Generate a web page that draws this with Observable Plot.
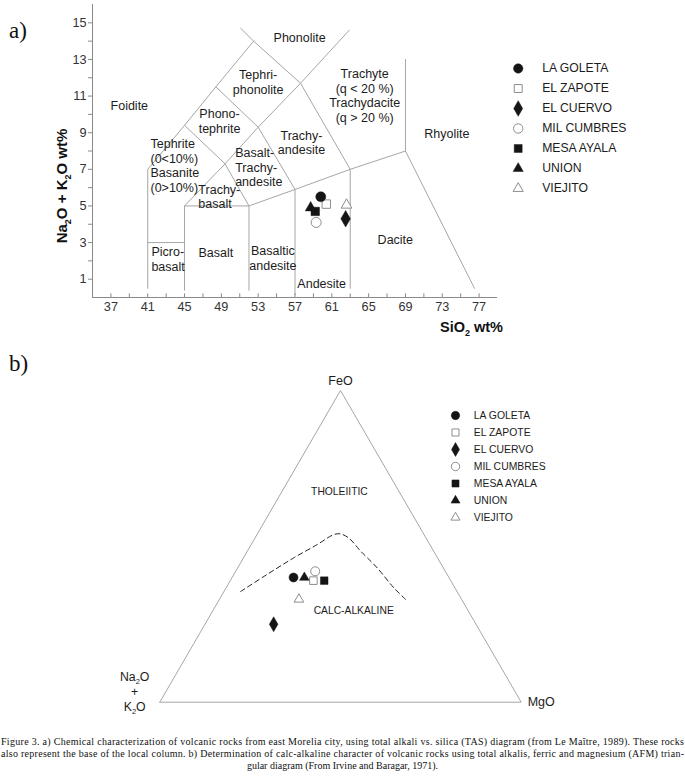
<!DOCTYPE html>
<html><head><meta charset="utf-8">
<script src="https://cdn.jsdelivr.net/npm/d3@7"></script>
<script src="https://cdn.jsdelivr.net/npm/@observablehq/plot@0.6"></script>
<style>
html,body{margin:0;padding:0;background:#fff;}
#root{position:relative;width:685px;height:781px;overflow:hidden;background:#fff;}
#root > *{position:absolute;}
.tag{font-family:"Liberation Serif","Times New Roman",serif;font-size:23px;color:#111;line-height:1;}
</style></head><body><div id="root"></div>
<script>
// ---------------- DATA ----------------
const series = ["LA GOLETA","EL ZAPOTE","EL CUERVO","MIL CUMBRES","MESA AYALA","UNION","VIEJITO"];
// panel a: TAS diagram (SiO2 wt%, Na2O+K2O wt%)
const tasSiO2   = [59.8, 60.4, 62.5, 59.3, 59.2, 58.7, 62.6];
const tasAlkali = [5.5, 5.1, 4.3, 4.1, 4.7, 4.9, 5.05];
// panel b: AFM diagram (percent of A = Na2O+K2O, F = FeO, M = MgO)
const afmA = [43, 38, 56, 36, 35, 40, 45];
const afmF = [40, 39, 25, 42, 39, 40, 33];
const afmM = [17, 23, 19, 22, 26, 20, 22];
// tick labels
const xTickLabels = [37,41,45,49,53,57,61,65,69,73,77];
const xTickMarks  = [37,39,41,43,45,47,49,51,53,55,57,59,61,63,65,67,69,71,73,75,77];
const yTickLabels = [1,3,5,7,9,11,13,15];
const yTickMarks  = [1,2,3,4,5,6,7,8,9,10,11,12,13,14,15];
// TAS field boundaries (Le Maitre, 1989) as [SiO2, alkali] polylines
const tasBoundaries = [
  [[41,0.5],[41,7],[45,9.4],[48.4,11.5],[52.5,14]],
  [[51.1,14.7],[52.5,14],[57.6,11.7],[63,7],[63,0.5]],
  [[41,3],[45,3]],
  [[45,0.4],[45,5],[49.4,7.3],[53,9.3],[57.6,11.7],[62.9,14.6]],
  [[45,5],[52,5],[57,5.9],[63,7],[69,8],[76.5,0.5]],
  [[69,8],[69,13]],
  [[52,0.4],[52,5],[49.4,7.3]],
  [[45,9.4],[49.4,7.3]],
  [[48.4,11.5],[53,9.3],[57,5.9],[57,0.15]]
];
// TAS field names (position in SiO2 / alkali units)
const tasFieldsCentered = [
  {text:"Phonolite", x:57.5, y:14.2},
  {text:"Tephri-\nphonolite", x:53.0, y:11.78},
  {text:"Trachyte\n(q < 20 %)\nTrachydacite\n(q > 20 %)", x:64.57, y:11.04},
  {text:"Foidite", x:39.0, y:10.5},
  {text:"Phono-\ntephrite", x:48.8, y:9.65},
  {text:"Rhyolite", x:73.5, y:8.97},
  {text:"Trachy-\nandesite", x:57.7, y:8.47},
  {text:"Basalt", x:48.4, y:2.46},
  {text:"Basaltic\nandesite", x:54.6, y:2.16},
  {text:"Andesite", x:59.9, y:0.77},
  {text:"Dacite", x:67.9, y:3.17}
];
const tasFieldsLeft = [
  {text:"Tephrite\n(0<10%)\nBasanite\n(0>10%)", x:41.3, y:7.22},
  {text:"Basalt-\nTrachy-\nandesite", x:50.5, y:7.11},
  {text:"Trachy-\nbasalt", x:46.5, y:5.52},
  {text:"Picro-\nbasalt", x:41.4, y:2.1}
];
// AFM: triangle and Irvine & Baragar (1971) divide (F, M percent)
const afmTriangle = [{F:0,M:0},{F:100,M:0},{F:0,M:100},{F:0,M:0}];
const divideF = [35.5, 41, 46.3, 50.6, 53.8, 54, 52.7, 48.5, 43.1, 36.7, 33];
const divideM = [4.6, 9.2, 13.9, 18.3, 21.3, 23, 25.9, 31.3, 38.6, 46.4, 51.5];
const afmFieldLabels = [
  {text:"THOLEIITIC", F:67.6, M:15.9},
  {text:"CALC-ALKALINE", F:29.5, M:38.9}
];
const caption = [
  "Figure 3. a) Chemical characterization of volcanic rocks from east Morelia city, using total alkali vs. silica (TAS) diagram (from Le Maître, 1989). These rocks",
  "also represent the base of the local column. b) Determination of calc-alkaline character of volcanic rocks using total alkalis, ferric and magnesium (AFM) trian-",
  "gular diagram (From Irvine and Baragar, 1971)."
];

// ---------------- STYLE ----------------
const seriesSymbol = ["circle","square","diamond","circle","square","triangle","triangle"];
const seriesFilled = [true,false,true,false,true,true,false];
const symbolScale = {circle: 1, square: 0.95, diamond: 1, triangle: 0.8};
const DARK = "#151515", OPEN = "#8e8e8e", LINE = "#a6a6a6", TXT = "#1c1c1c";
const SANS = "'Liberation Sans', Arial, Helvetica, sans-serif";
const isFilled = n => seriesFilled[series.indexOf(n)];
const fillOf = n => isFilled(n) ? DARK : "white";
const strokeOf = n => isFilled(n) ? DARK : OPEN;
const sizeOf = (n, base) => base * symbolScale[seriesSymbol[series.indexOf(n)]];
const baseStyle = {fontFamily: SANS, fontSize: "12.5px", color: TXT, background: "transparent", overflow: "visible"};

// one dot mark per series (open symbols first, filled on top)
function seriesDots(data, opts, base) {
  const order = series.filter(n => !isFilled(n)).concat(series.filter(n => isFilled(n)));
  return order.map(n => Plot.dot(data, {
    ...opts,
    filter: d => (d.name ?? d) === n,
    symbol: () => n,
    r: sizeOf(n, base),
    fill: fillOf(n),
    stroke: strokeOf(n),
    strokeWidth: isFilled(n) ? 0.5 : 1
  }));
}

const root = document.getElementById("root");

// ---------------- PANEL A ----------------
const tasData = series.map((name, i) => ({name, x: tasSiO2[i], y: tasAlkali[i]}));
const tasLines = tasBoundaries.flatMap((pts, k) => pts.map(([x, y]) => ({k, x, y})));

const plotA = Plot.plot({
  width: 520, height: 340,
  marginLeft: 92, marginRight: 23, marginTop: 4, marginBottom: 43,
  x: {domain: [35, 79]},
  y: {domain: [0, 16]},
  symbol: {domain: series, range: seriesSymbol},
  style: baseStyle,
  marks: [
    Plot.line(tasLines, {x: "x", y: "y", z: "k", stroke: LINE, strokeWidth: 1}),
    Plot.ruleY([0], {x1: 35, x2: 79, stroke: "#8a8a8a"}),
    Plot.ruleX([35], {y1: 0, y2: 16, stroke: "#8a8a8a"}),
    Plot.ruleX(xTickMarks, {y1: 0, y2: 0.2, stroke: "#8a8a8a"}),
    Plot.axisX({ticks: xTickLabels, tickSize: 0, tickPadding: 4, fontSize: 12.7, color: "#333", label: null}),
    Plot.axisY({ticks: yTickMarks, tickSize: 4, tickFormat: () => "", stroke: "#8a8a8a", label: null}),
    Plot.axisY({ticks: yTickLabels, tickSize: 0, tickPadding: 6, fontSize: 12.7, color: "#333", label: null}),
    Plot.text(tasFieldsCentered, {x: "x", y: "y", text: "text", fontSize: 12.5, lineHeight: 1.16, fill: TXT}),
    Plot.text(tasFieldsLeft, {x: "x", y: "y", text: "text", textAnchor: "start", fontSize: 12.5, lineHeight: 1.16, fill: TXT}),
    ...seriesDots(tasData, {x: "x", y: "y"}, 5)
  ]
});
plotA.style.left = "0px"; plotA.style.top = "0px";
root.appendChild(plotA);

// axis titles with subscripts
(function () {
  const svg = d3.select(plotA);
  const g = svg.append("g").attr("font-family", SANS).attr("font-weight", "bold").attr("fill", "#111");
  const yl = g.append("text").attr("text-anchor", "middle").attr("font-size", 15)
    .attr("transform", "translate(67,186) rotate(-90)");
  yl.append("tspan").text("Na");
  yl.append("tspan").attr("font-size", 9).attr("dy", 4).text("2");
  yl.append("tspan").attr("dy", -4).text("O + K");
  yl.append("tspan").attr("font-size", 9).attr("dy", 4).text("2");
  yl.append("tspan").attr("dy", -4).text("O wt%");
  const xl = g.append("text").attr("text-anchor", "end").attr("font-size", 14.5)
    .attr("x", 503).attr("y", 331.5);
  xl.append("tspan").text("SiO");
  xl.append("tspan").attr("font-size", 9).attr("dy", 4).text("2");
  xl.append("tspan").attr("dy", -4).text(" wt%");
})();

// ---------------- LEGENDS ----------------
function makeLegend({left, top, width, height, sx, yRange, r, dx, fontSize}) {
  const el = Plot.plot({
    width, height, margin: 0,
    x: {domain: [0, 1], range: [sx, width], axis: null},
    y: {type: "point", domain: series, range: yRange, padding: 0, axis: null},
    symbol: {domain: series, range: seriesSymbol},
    style: baseStyle,
    marks: [
      ...seriesDots(series, {x: () => 0, y: d => d}, r),
      Plot.text(series, {x: () => 0, y: d => d, text: d => d, dx, textAnchor: "start", fontSize, fill: TXT})
    ]
  });
  el.style.left = left + "px"; el.style.top = top + "px";
  root.appendChild(el);
}
makeLegend({left: 500, top: 58, width: 150, height: 142, sx: 17.7, yRange: [10.3, 130.3], r: 4.7, dx: 24, fontSize: 12.2});
makeLegend({left: 440, top: 400, width: 130, height: 130, sx: 15, yRange: [12.7, 119], r: 4.2, dx: 18.3, fontSize: 10.4});

// ---------------- PANEL B ----------------
const S3 = Math.sqrt(3) / 2;
const tx = d => (d.M + d.F / 2) / 100;
const ty = d => d.F * S3 / 100;
const afmData = series.map((name, i) => ({name, A: afmA[i], F: afmF[i], M: afmM[i]}));
const divide = divideF.map((F, i) => ({F, M: divideM[i]}));

const plotB = Plot.plot({
  width: 685, height: 380,
  marginLeft: 159.3, marginRight: 164.3, marginTop: 50, marginBottom: 18.3,
  x: {domain: [0, 1], axis: null},
  y: {domain: [0, S3], axis: null},
  symbol: {domain: series, range: seriesSymbol},
  style: baseStyle,
  marks: [
    Plot.line(afmTriangle, {x: tx, y: ty, stroke: LINE, strokeWidth: 1}),
    Plot.line(divide, {x: tx, y: ty, curve: "catmull-rom", stroke: "#222", strokeWidth: 1, strokeDasharray: "5,3.5"}),
    Plot.text(afmFieldLabels, {x: tx, y: ty, text: "text", fontSize: 10.3, fill: TXT}),
    Plot.text(["FeO"], {x: () => 0.5, y: () => S3, text: d => d, dy: -9.5, fontSize: 12.5, fill: TXT}),
    Plot.text(["MgO"], {x: () => 1, y: () => 0, text: d => d, dx: 20, fontSize: 12.5, fill: TXT}),
    ...seriesDots(afmData, {x: tx, y: ty}, 4.5)
  ]
});
plotB.style.left = "0px"; plotB.style.top = "340px";
root.appendChild(plotB);

(function () {
  const vx = plotB.scale("x").apply(0), vy = plotB.scale("y").apply(0);
  const g = d3.select(plotB).append("g").attr("font-family", SANS).attr("font-size", 12.3)
    .attr("fill", TXT).attr("text-anchor", "middle");
  const t1 = g.append("text").attr("x", vx - 24.6).attr("y", vy - 25 + 4.4);
  t1.append("tspan").text("Na");
  t1.append("tspan").attr("font-size", 7.5).attr("dy", 3).text("2");
  t1.append("tspan").attr("dy", -3).text("O");
  g.append("text").attr("x", vx - 24.6).attr("y", vy - 10 + 4.4).text("+");
  const t3 = g.append("text").attr("x", vx - 24.6).attr("y", vy + 5 + 4.4);
  t3.append("tspan").text("K");
  t3.append("tspan").attr("font-size", 7.5).attr("dy", 3).text("2");
  t3.append("tspan").attr("dy", -3).text("O");
})();

// ---------------- PANEL TAGS ----------------
const tagA = document.createElement("div"); tagA.className = "tag"; tagA.textContent = "a)";
tagA.style.left = "9px"; tagA.style.top = "19px"; root.appendChild(tagA);
const tagB = document.createElement("div"); tagB.className = "tag"; tagB.textContent = "b)";
tagB.style.left = "9px"; tagB.style.top = "352px"; root.appendChild(tagB);

// ---------------- CAPTION ----------------
const cap = d3.select(root).append("svg").attr("width", 685).attr("height", 45)
  .style("left", "0px").style("top", "736px");
cap.selectAll("text").data(caption).join("text")
  .attr("font-family", "'Liberation Serif','Times New Roman',serif")
  .attr("font-size", 10)
  .attr("fill", "#111")
  .attr("x", (d, i) => i < 2 ? 1 : 342.5)
  .attr("y", (d, i) => 9 + i * 12)
  .attr("text-anchor", (d, i) => i < 2 ? "start" : "middle")
  .attr("textLength", (d, i) => i < 2 ? 683 : null)
  .attr("lengthAdjust", "spacing")
  .text(d => d);
</script></body></html>
